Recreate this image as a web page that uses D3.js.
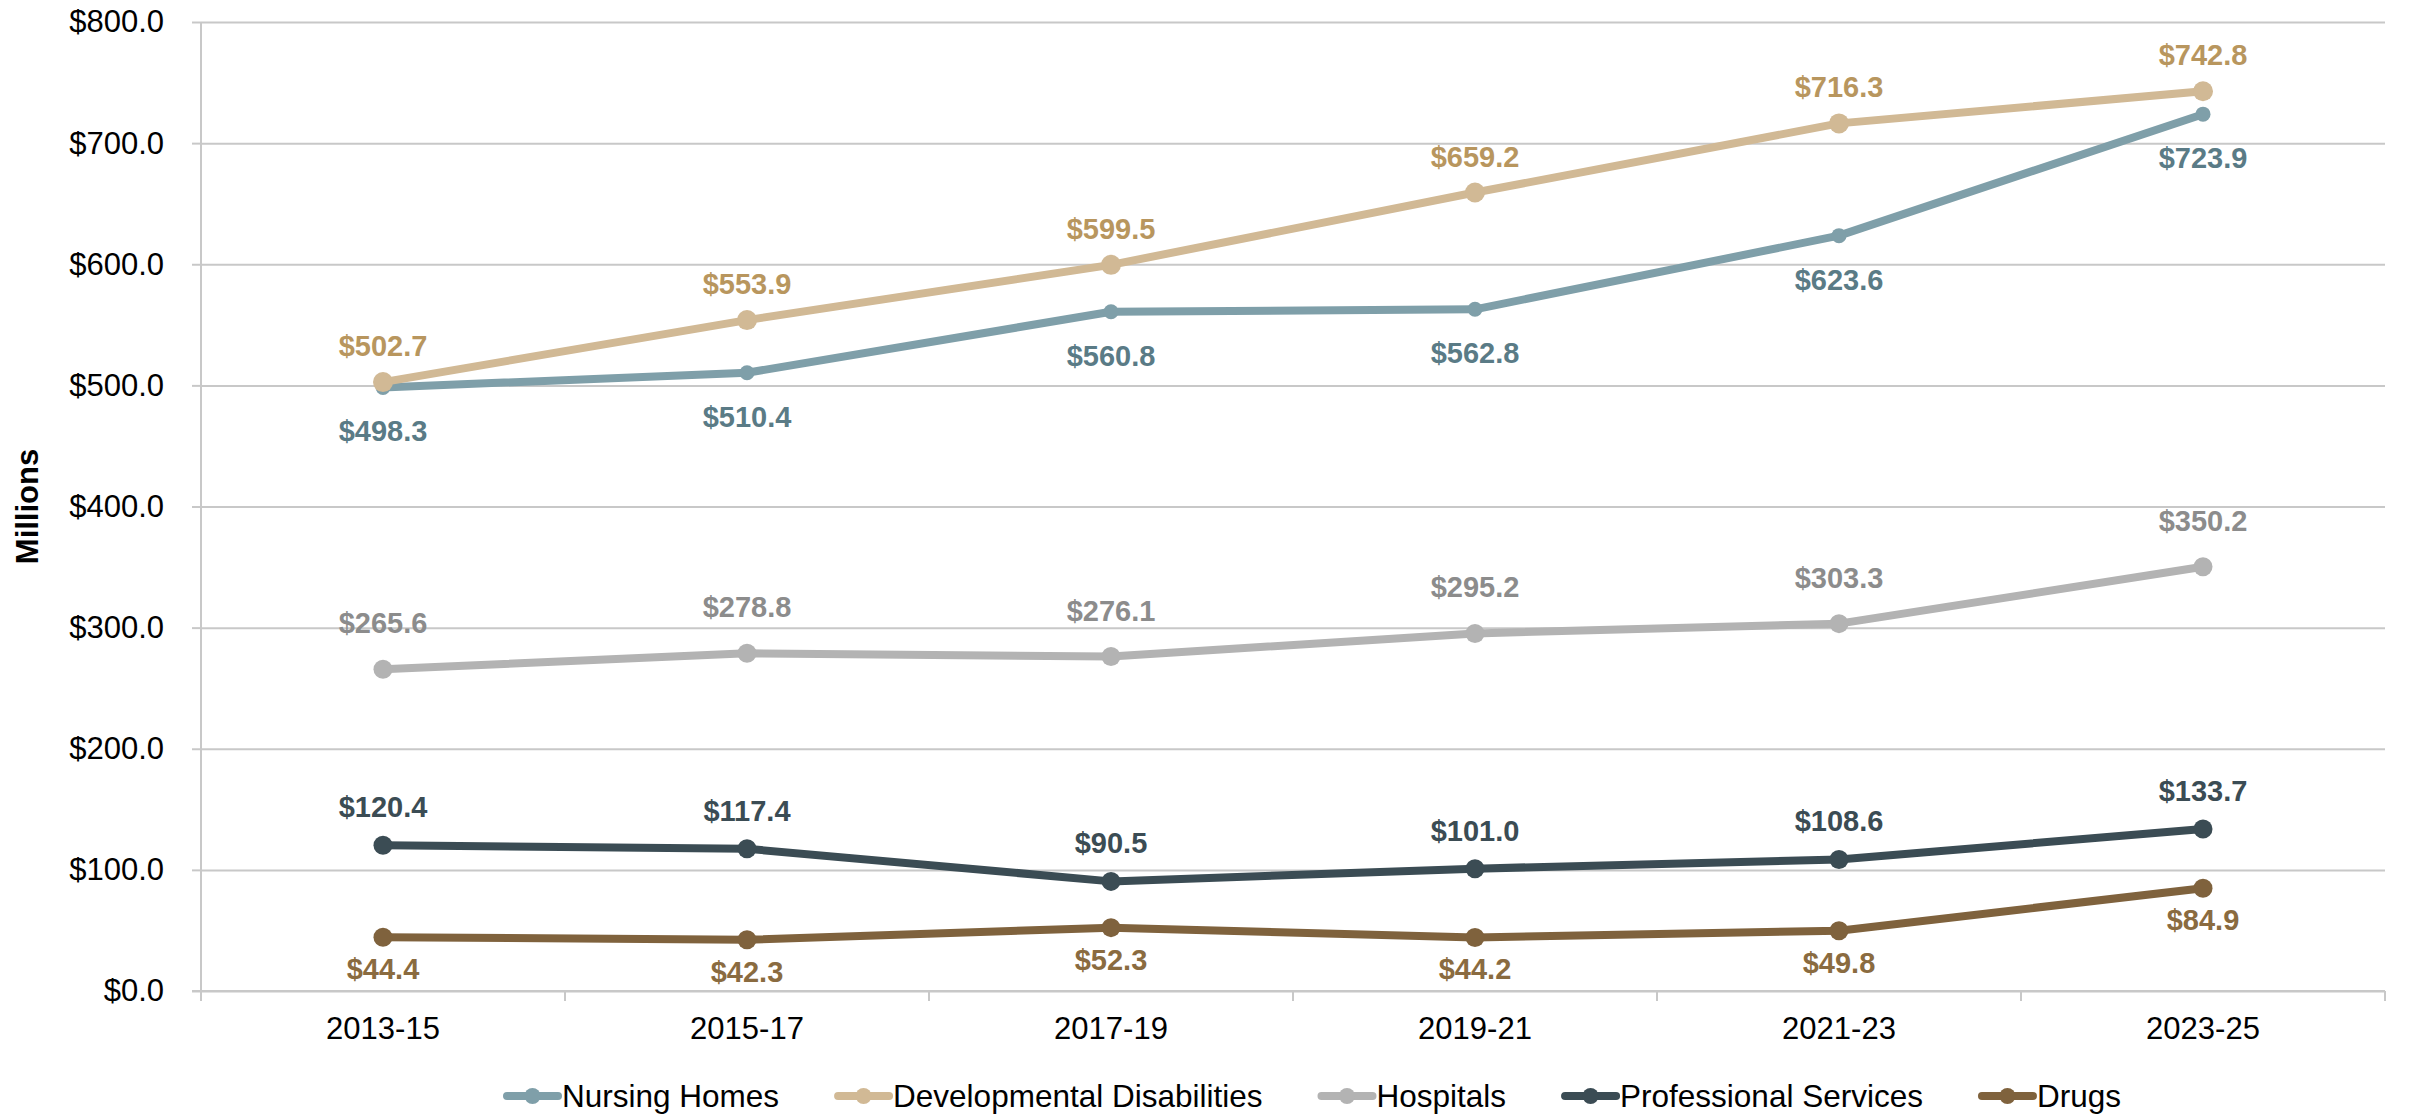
<!DOCTYPE html>
<html>
<head>
<meta charset="utf-8">
<script src="https://cdn.jsdelivr.net/npm/d3@7"></script>
<style>
  html, body { margin: 0; padding: 0; background: #fff; }
  svg { display: block; font-family: "Liberation Sans", Arial, sans-serif; }
</style>
</head>
<body>
<svg id="chart" width="2413" height="1115"></svg>
<script>
// ---- Data ----
const categories = ["2013-15", "2015-17", "2017-19", "2019-21", "2021-23", "2023-25"];
const seriesNames = ["Nursing Homes", "Developmental Disabilities", "Hospitals", "Professional Services", "Drugs"];
const nursingHomes = [498.3, 510.4, 560.8, 562.8, 623.6, 723.9];
const developmentalDisabilities = [502.7, 553.9, 599.5, 659.2, 716.3, 742.8];
const hospitals = [265.6, 278.8, 276.1, 295.2, 303.3, 350.2];
const professionalServices = [120.4, 117.4, 90.5, 101.0, 108.6, 133.7];
const drugs = [44.4, 42.3, 52.3, 44.2, 49.8, 84.9];
const yTicks = [0, 100, 200, 300, 400, 500, 600, 700, 800];
const yTitle = "Millions";

const seriesValues = [nursingHomes, developmentalDisabilities, hospitals, professionalServices, drugs];

(function () {
// ---- Styles ----
const styles = [
  { line: "#7f9fa9", label: "#5a7b86", r: 7.5, dy: 44 },
  { line: "#d1b995", label: "#b8965e", r: 10, dy: -36 },
  { line: "#b3b3b3", label: "#8c8c8c", r: 9.5, dy: -46 },
  { line: "#3b4c54", label: "#3b4c54", r: 9.5, dy: -38 },
  { line: "#7f623d", label: "#8a6b40", r: 9.5, dy: 32 }
];

const svg = d3.select("#chart");
const pLeft = 201, pRight = 2385, pTop = 22, pBottom = 991;

const x = d3.scaleBand().domain(categories).range([pLeft, pRight]);
const y = d3.scaleLinear().domain([0, 800]).range([pBottom, pTop]);
const cx = c => x(c) + x.bandwidth() / 2;

// gridlines
svg.append("g")
  .attr("transform", `translate(${pLeft},0)`)
  .call(d3.axisLeft(y).tickValues(yTicks).tickSize(-(pRight - pLeft)).tickFormat(""))
  .call(g => g.select(".domain").remove())
  .call(g => g.selectAll("line").attr("stroke", "#c8c8c8").attr("stroke-width", 2));

// y axis ticks + labels
svg.append("g")
  .attr("transform", `translate(${pLeft},0)`)
  .call(d3.axisLeft(y).tickValues(yTicks).tickSize(9).tickPadding(28)
    .tickFormat(d => "$" + d.toFixed(1)))
  .call(g => g.select(".domain").attr("stroke", "#c8c8c8").attr("stroke-width", 2)
    .attr("d", `M0,${pBottom + 10}V${pTop}`))
  .call(g => g.selectAll("line").attr("stroke", "#c8c8c8").attr("stroke-width", 2))
  .call(g => g.selectAll("text").attr("font-size", 31).attr("fill", "#000")
    .attr("font-family", "Liberation Sans, Arial, sans-serif"));

// x axis
const xBoundaries = d3.range(categories.length + 1).map(i => pLeft + i * x.bandwidth());
svg.append("g")
  .attr("transform", `translate(0,${pBottom})`)
  .call(d3.axisBottom(x).tickSize(0).tickPadding(26))
  .call(g => g.select(".domain").remove())
  .call(g => g.selectAll("text").attr("font-size", 31).attr("fill", "#000")
    .attr("font-family", "Liberation Sans, Arial, sans-serif"));
svg.append("g").selectAll("line").data(xBoundaries).join("line")
  .attr("x1", d => d).attr("x2", d => d)
  .attr("y1", pBottom).attr("y2", pBottom + 10)
  .attr("stroke", "#c8c8c8").attr("stroke-width", 2);
svg.append("line")
  .attr("x1", pLeft - 9).attr("x2", pRight)
  .attr("y1", pBottom).attr("y2", pBottom)
  .attr("stroke", "#c8c8c8").attr("stroke-width", 2);

// y title
svg.append("text")
  .attr("transform", `translate(27,${(pTop + pBottom) / 2}) rotate(-90)`)
  .attr("text-anchor", "middle").attr("dominant-baseline", "central")
  .attr("font-size", 31).attr("font-weight", "bold").attr("fill", "#000")
  .text(yTitle);

// series
const lineGen = d3.line().x((d, i) => cx(categories[i])).y(d => y(d));
seriesValues.forEach((vals, si) => {
  const st = styles[si];
  const g = svg.append("g");
  g.append("path").datum(vals).attr("d", lineGen)
    .attr("fill", "none").attr("stroke", st.line).attr("stroke-width", 8)
    .attr("stroke-linejoin", "round");
  g.selectAll("circle").data(vals).join("circle")
    .attr("cx", (d, i) => cx(categories[i])).attr("cy", d => y(d))
    .attr("r", st.r).attr("fill", st.line);
});
// labels on top
seriesValues.forEach((vals, si) => {
  const st = styles[si];
  svg.append("g").selectAll("text").data(vals).join("text")
    .attr("x", (d, i) => cx(categories[i]))
    .attr("y", d => y(d) + st.dy)
    .attr("text-anchor", "middle").attr("dominant-baseline", "central")
    .attr("font-size", 29).attr("font-weight", "bold").attr("fill", st.label)
    .text(d => "$" + d.toFixed(1));
});

// legend
const legendY = 1096, markerW = 59, itemGap = 55, legFont = 31.5;
const leg = svg.append("g");
const widths = seriesNames.map(n => {
  const t = leg.append("text").attr("font-size", legFont).text(n);
  const w = t.node().getComputedTextLength(); t.remove(); return w;
});
const total = d3.sum(widths) + seriesNames.length * markerW + (seriesNames.length - 1) * itemGap;
let lx = 1312 - total / 2;
seriesNames.forEach((n, i) => {
  const st = styles[i];
  leg.append("line").attr("x1", lx + 4).attr("x2", lx + markerW - 4)
    .attr("y1", legendY).attr("y2", legendY)
    .attr("stroke", st.line).attr("stroke-width", 8).attr("stroke-linecap", "round");
  leg.append("circle").attr("cx", lx + markerW / 2).attr("cy", legendY).attr("r", 8).attr("fill", st.line);
  leg.append("text").attr("x", lx + markerW).attr("y", legendY)
    .attr("dominant-baseline", "central").attr("font-size", legFont).attr("fill", "#000").text(n);
  lx += markerW + widths[i] + itemGap;
});
})();
</script>
</body>
</html>
